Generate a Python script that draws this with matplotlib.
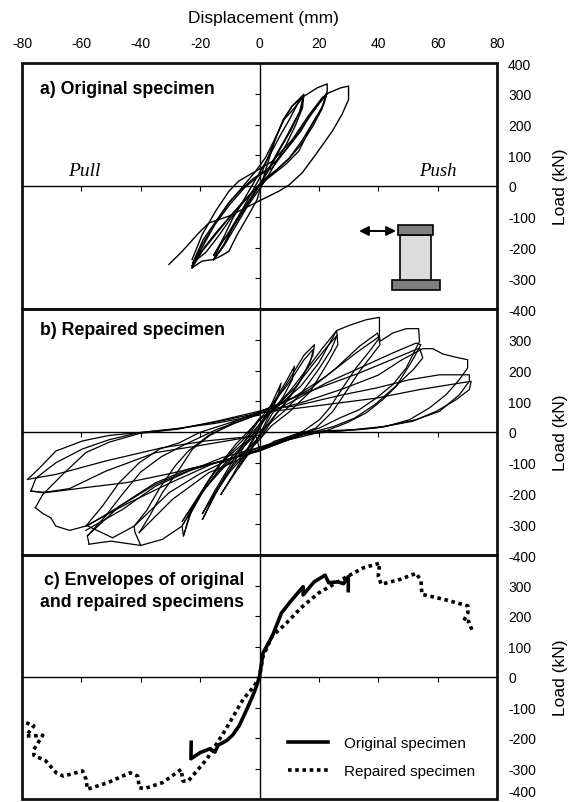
import matplotlib
matplotlib.use("Agg")
import matplotlib.pyplot as plt
from matplotlib.patches import Rectangle, FancyArrowPatch

plt.rcParams["font.family"] = ["Liberation Sans", "DejaVu Sans"]
plt.rcParams["axes.unicode_minus"] = False

W, H = 569, 803

# === DATA (mm / kN) ===
x_ticks = [-80, -60, -40, -20, 0, 20, 40, 60, 80]
y_ticks = [-400, -300, -200, -100, 0, 100, 200, 300, 400]

# a) original specimen: one list per loop
a_x1 = [-15.4, -12, -8, -4, 0, 4, 8, 11, 14.9, 14.5, 12, 9, 6, 3, 0, -4, -8, -12, -15.4]
a_y1 = [-239, -190, -115, -45, 25, 120, 216, 260, 298, 255, 195, 135, 85, 35, -10, -65, -130, -195, -239]
a_x2 = [-15.4, -12.5, -9, -5, -2, 1, 4, 7, 10, 13, 15, 14, 11.5, 8.5, 5.5, 2.5, 0, -3.6, -7.5, -10.3, -13, -15.4]
a_y2 = [-225, -175, -105, -40, 10, 60, 110, 165, 215, 270, 295, 250, 205, 150, 100, 45, 5, -48, -105, -150, -190, -225]
a_x3 = [-15.4, -12.5, -10.3, -7.5, -3.6, -0.8, 2, 5.4, 8.2, 11, 14.7, 13.5, 10.5, 7.5, 4.5, 1.5, -2, -6, -10, -13, -15.4]
a_y3 = [-239, -225, -212, -158, -93, -44, 50, 157, 216, 245, 290, 240, 180, 130, 75, 25, -30, -90, -150, -185, -239]
a_x4 = [-22.7, -19.3, -14.8, -10.3, -7, -1.3, 2, 5.4, 8.2, 11, 14.9, 16, 19.4, 22.8, 22.8, 21, 17.7, 13.2, 8.8, 3.1, -1.3, -5.8, -10.3, -14.8, -19.3, -22.7]
a_y4 = [-239, -158, -82, -17, 16, 48, 92, 157, 216, 260, 292, 298, 319, 332, 308, 254, 200, 113, 70, 27, -11, -55, -104, -158, -212, -266]
a_x5 = [-22.7, -19.3, -15, -10, -5, 0, 4.3, 11, 16.6, 22.8, 21.5, 18.5, 14.5, 10, 5, 0, -5, -10, -14.5, -19, -22.7]
a_y5 = [-260, -190, -125, -60, -5, 35, 59, 146, 222, 303, 262, 215, 150, 90, 45, 5, -45, -100, -150, -205, -260]
a_x6 = [-22.5, -19, -14, -10, -6, -2, 2, 6, 10, 14, 18, 22.6, 21, 18, 14, 10, 6, 2, -2, -6, -10, -14, -18, -22.5]
a_y6 = [-250, -175, -105, -50, -10, 25, 50, 85, 130, 180, 245, 300, 250, 195, 135, 90, 55, 25, -15, -60, -110, -165, -215, -250]
a_x7 = [-22.7, -19.3, -14.8, -10.3, -5, -1.3, 4.3, 11, 16.6, 21.1, 23.3, 27.3, 30, 30, 27.8, 24.5, 18.9, 14.4, 9.9, 6.5, -0.2, -4.7, -10.3, -17, -20.4, -26, -30.5]
a_y7 = [-266, -200, -120, -55, 5, 48, 80, 150, 230, 287, 303, 319, 325, 281, 233, 178, 102, 43, 3, -17, -49, -71, -98, -120, -152, -212, -255]
a_x8 = [-22.7, -21, -19.3, -15.4]
a_y8 = [-266, -255, -244, -239]

# b) repaired specimen: one list per loop
b_x1 = [-7, -4, 0, 4, 7.3, 6, 3, 0, -3, -7]
b_y1 = [-115, -60, 10, 90, 159, 110, 50, -10, -60, -115]
b_x2 = [-13, -9, -5, 0, 5, 9, 11.8, 11, 8, 4, 0, -4, -8, -13]
b_y2 = [-203, -140, -70, 15, 100, 165, 214, 170, 115, 55, -15, -75, -130, -203]
b_x3 = [-19.2, -15, -10, -5, 0, 5, 10, 15, 18.5, 18, 14, 10, 5, 0, -5, -10, -15, -19.2]
b_y3 = [-284, -205, -120, -45, 25, 95, 170, 250, 284, 250, 170, 110, 50, -25, -75, -130, -200, -284]
b_x4 = [-19.2, -15, -10, -5, 0, 5, 10, 15, 18.2, 17, 13, 9, 4, 0, -5, -11, -16, -19.2]
b_y4 = [-265, -190, -110, -30, 40, 100, 160, 235, 270, 225, 155, 100, 40, -15, -65, -135, -215, -265]
b_x5 = [-25.6, -23.7, -19.2, -13.6, -6.8, -1.2, 4, 10, 16, 21, 26, 26.4, 23, 17, 10, 4, 0, -6, -12, -19, -26.1]
b_y5 = [-338, -273, -197, -121, -56, 0, 70, 130, 205, 270, 330, 284, 225, 130, 65, 20, -25, -70, -115, -190, -306]
b_x6 = [-26.1, -22.7, -18.2, -13, -6, 0, 6, 12, 18, 23, 26.2, 24, 20, 14, 8, 3, -2, -8, -14, -20, -26]
b_y6 = [-306, -250, -175, -100, -42, 25, 85, 145, 220, 280, 315, 265, 205, 125, 65, 25, -15, -75, -130, -205, -290]
b_x7 = [-26, -21, -15, -8, 0, 7, 14, 20, 26, 30.3, 35.9, 40.4, 40.4, 37, 32.5, 28, 23.6, 20.2, 14.6, 5, 0, -12.5, -20.3, -30.4, -42.2]
b_y7 = [-290, -215, -125, -40, 40, 90, 150, 225, 330, 347, 365, 373, 306, 262, 208, 143, 78, 40, 2, -35, -50, -100, -137, -197, -306]
b_x8 = [-42.2, -38, -33.8, -28.4, -24, -17, -8, 0, 7.9, 16.8, 25.8, 33.7, 39.8, 40.6, 37.5, 33.7, 29.2, 24.7, 19, 10, 0, -8, -17, -29.3, -40.5]
b_y8 = [-306, -255, -185, -110, -62, -10, 30, 60, 94, 138, 208, 279, 322, 284, 245, 197, 132, 67, 13, -20, -55, -95, -132, -219, -327]
b_x9 = [-40.5, -37, -32.7, -27, -22.6, -17, -8, 0, 11.2, 22.4, 32.5, 40.4, 40.6, 44.9, 49.4, 53.6, 53.9, 49.4, 44.9, 39.3, 33.7, 26.9, 20.2, 16.8, 8, 0, -12.5, -23.7, -35, -46, -58.5]
b_y9 = [-327, -273, -197, -121, -56, -13, 35, 65, 111, 181, 257, 311, 295, 322, 336, 336, 295, 208, 154, 110, 73, 45, 13, 2, -25, -50, -83, -127, -176, -251, -320]
b_x10 = [-40, -32.7, -26.1, -25.6, -23, -18, -12, -5, 0, 11.2, 22.4, 33.7, 44.9, 52.7, 54.4, 51, 46, 41.5, 35.9, 29.2, 22.4, 10, 0, -12.5, -23.7, -35, -47, -58]
b_y10 = [-369, -349, -306, -338, -260, -170, -90, -20, 45, 100, 159, 208, 257, 289, 284, 225, 148, 105, 62, 29, 4, -25, -60, -95, -120, -165, -240, -338]
b_x11 = [-58.5, -52.9, -47.3, -40.5, -33.8, -27, -20.3, -10, 0, 16.8, 33.7, 53.9, 55, 52, 46, 39, 32, 25, 15, 0, -1.2, -12.5, -23.7, -35, -46, -58]
b_y11 = [-306, -241, -165, -100, -56, -35, -2, 30, 65, 132, 192, 273, 241, 205, 150, 90, 45, 18, -8, -58, -60, -95, -125, -170, -235, -305]
b_x12 = [-58, -49.5, -42.2, -42, -40, -50, -54, -57.4]
b_y12 = [-305, -344, -306, -325, -369, -355, -360, -365]
b_x13 = [-57.4, -58, -52, -46, -40, -33, -25, -14, -5, 0, 14, 28, 40, 48, 55, 58.4, 61.7, 66.2, 70.1, 70.1, 67.3, 62.8, 57.2, 50.5, 42.6, 33.7, 22.4, 14.6, 5, 0, -15, -30, -45, -58.5, -64, -68.6, -70.3, -73, -75.5]
b_y13 = [-365, -338, -275, -200, -130, -80, -40, 10, 40, 60, 95, 140, 185, 235, 271, 271, 254, 243, 235, 208, 170, 121, 78, 40, 18, 8, 4, 0, -30, -60, -100, -165, -235, -306, -320, -306, -279, -265, -246]
b_x14 = [-75.5, -73, -66.3, -58.5, -50.6, -40.5, -27, -14, 0, 3.4, 11.2, 28, 39.3, 50.5, 60.6, 70.7, 70.7, 67.3, 60.6, 52.7, 42, 28, 14, 0, -15, -30, -45, -58, -66, -72, -77]
b_y14 = [-246, -203, -138, -67, -33, -5, 10, 36, 68, 78, 83, 121, 143, 170, 186, 186, 165, 121, 67, 40, 18, 4, -8, -62, -100, -135, -165, -180, -190, -197, -192]
b_x15 = [-77, -75.3, -68.6, -59.6, -50.6, -40.5, -27, -14, 0, 22.4, 39.3, 53.9, 71.3, 70.7, 66.2, 59.5, 51.6, 39.3, 28, 14, 0, -1.2, -18, -32.7, -51.7, -68.6, -78.1]
b_y15 = [-192, -150, -100, -55, -25, -2, 12, 34, 62, 89, 110, 138, 165, 138, 105, 67, 35, 13, 4, -6, -55, -13, -29, -51, -94, -138, -154]
b_x16 = [-78.1, -74, -68.6, -59.6, -50.6, -40.5, -30, -15, 0]
b_y16 = [-154, -116, -62, -29, -11, -2, 8, 28, 55]
b_x17 = [-77, -73, -64, -51.7, -35, -21.4, -8, 0]
b_y17 = [-192, -197, -184, -127, -67, -46, -24, -10]

# c) envelopes
orig_x = [-23, -23.1, -20, -16.6, -15, -14, -11, -9, -6.8, -4, -1.8, 0, 1.2, 4.3, 7.4, 10.4, 14.7, 14.7, 18.4, 22.1, 23.3, 26.4, 28.3, 29.9, 29.9]
orig_y = [-214, -268, -248, -235, -246, -224, -208, -190, -159, -100, -51, 0, 79, 134, 210, 247, 296, 269, 312, 334, 309, 312, 306, 329, 283]
rep_x = [-78.6, -76, -78.6, -76, -73, -76, -76, -72, -68.5, -66, -59.6, -58.4, -58, -51, -43.6, -41, -40.5, -38.7, -32.6,
         -26.4, -25.8, -24, -17.8, -11.7, -5.5, -1.8, 0, 1.2, 4.3, 9.2, 14, 20, 28.9, 35, 40.5, 40, 41, 47.3, 52.8, 54.4,
         54.7, 61.9, 70.2, 70.2, 68.8, 70.5, 71.9]
rep_y = [-150, -160, -193, -193, -191, -237, -257, -275, -314, -325, -308, -336, -368, -346, -314, -325, -363, -366, -346,
         -303, -341, -341, -270, -177, -73, -30, 0, 69, 134, 178, 227, 276, 326, 358, 373, 331, 304, 320, 340, 315,
         271, 255, 233, 211, 184, 182, 145]

loops_a = [(a_x1, a_y1), (a_x2, a_y2), (a_x3, a_y3), (a_x4, a_y4), (a_x5, a_y5), (a_x6, a_y6), (a_x7, a_y7), (a_x8, a_y8)]
loops_b = [(b_x1, b_y1), (b_x2, b_y2), (b_x3, b_y3), (b_x4, b_y4), (b_x5, b_y5), (b_x6, b_y6), (b_x7, b_y7),
           (b_x8, b_y8), (b_x9, b_y9), (b_x10, b_y10), (b_x11, b_y11), (b_x12, b_y12), (b_x13, b_y13),
           (b_x14, b_y14), (b_x15, b_y15), (b_x16, b_y16), (b_x17, b_y17)]

fig = plt.figure(figsize=(W / 100, H / 100), dpi=100)


def panel(top, bottom, labels):
    ax = fig.add_axes([22 / W, 1 - bottom / H, 475 / W, (bottom - top) / H])
    ax.set_xlim(-80, 80)
    ax.set_ylim(-400, 400)
    ax.patch.set_visible(False)
    # eixos cruzando no zero, moldura por cima
    ax.spines["left"].set_position("zero")
    ax.spines["bottom"].set_position("zero")
    ax.spines["top"].set_visible(False)
    ax.spines["right"].set_visible(False)
    for s in ("left", "bottom"):
        ax.spines[s].set_linewidth(1.0)
    ax.set_xticks(x_ticks)
    ax.set_yticks(y_ticks[1:-1])
    ax.tick_params(length=3.5, width=0.8, labelbottom=False, labelleft=False)
    ax.add_patch(Rectangle((0, 0), 1, 1, transform=ax.transAxes, fill=False,
                           lw=2.0, ec="#111111", clip_on=False, zorder=5))
    sec = ax.secondary_yaxis("right")
    sec.set_yticks(labels)
    sec.tick_params(length=0, pad=8, labelsize=10)
    sec.spines["right"].set_visible(False)
    fig.text(560 / W, 1 - (top + bottom) / 2 / H, "Load (kN)", rotation=90,
             ha="center", va="center", fontsize=12.5)
    return ax, sec


ax_a, _ = panel(64, 310, y_ticks)
ax_b, _ = panel(310, 556, y_ticks[:-1])
ax_c, sec_c = panel(556, 800, y_ticks[:-1])
sec_c.get_yticklabels()[0].set_va("bottom")

top = ax_a.secondary_xaxis("top")
top.set_xticks(x_ticks)
top.tick_params(length=0, pad=9, labelsize=10)
top.spines["top"].set_visible(False)
fig.text(263 / W, 1 - 18 / H, "Displacement (mm)", ha="center", va="center", fontsize=12.5)

for xs, ys in loops_a:
    ax_a.plot(xs, ys, color="black", lw=1.0, solid_joinstyle="round")
for xs, ys in loops_b:
    ax_b.plot(xs, ys, color="black", lw=0.9, solid_joinstyle="round")

ax_c.plot(orig_x, orig_y, color="black", lw=2.6, label="Original specimen", zorder=3)
ax_c.plot(rep_x, rep_y, color="black", lw=2.6, ls=(0, (1, 1)), label="Repaired specimen", zorder=2)
ax_c.legend(loc="lower left", bbox_to_anchor=((282 - 22) / 475, 0.06), frameon=False, fontsize=11, borderaxespad=0,
            handlelength=2.6, labelspacing=0.9, handletextpad=1.05)


def px_text(x, y, s, **kw):
    fig.text(x / W, 1 - y / H, s, va="center", **kw)


px_text(40, 90, "a) Original specimen", fontsize=12.8, fontweight="bold")
px_text(40, 331, "b) Repaired specimen", fontsize=12.8, fontweight="bold")
px_text(244, 581, "c) Envelopes of original", fontsize=12.8, fontweight="bold", ha="right")
px_text(244, 603, "and repaired specimens", fontsize=12.8, fontweight="bold", ha="right")
px_text(84, 171, "Pull", fontsize=14, style="italic", family="Liberation Serif", ha="center")
px_text(438, 171, "Push", fontsize=13.5, style="italic", family="Liberation Serif", ha="center")


# desenho do pilar
def px_rect(x0, y0, x1, y1, color):
    fig.add_artist(Rectangle((x0 / W, 1 - y1 / H), (x1 - x0) / W, (y1 - y0) / H, transform=fig.transFigure,
                             fc=color, ec="black", lw=1.2, zorder=6))


px_rect(400, 236, 431, 282, "#dcdcdc")
px_rect(398, 226, 433, 236, "#808080")
px_rect(392, 281, 440, 291, "#808080")
fig.add_artist(FancyArrowPatch((359 / W, 1 - 232 / H), (396 / W, 1 - 232 / H), transform=fig.transFigure,
                               arrowstyle="<|-|>", mutation_scale=14, shrinkA=0, shrinkB=0, color="black", lw=1.4, zorder=6))

fig.savefig("out.png", dpi=100)
